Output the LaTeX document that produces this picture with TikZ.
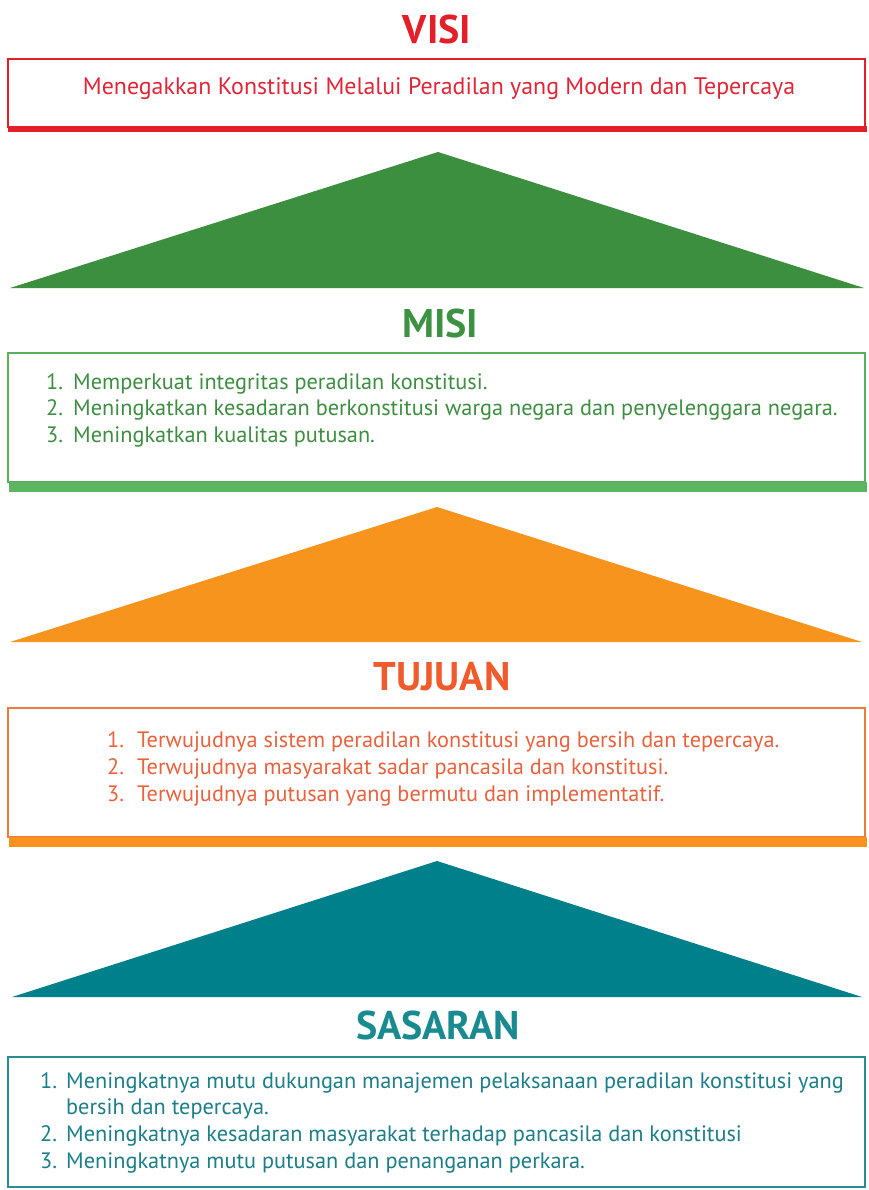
\documentclass[tikz,border=0pt]{standalone}
\usepackage{fontspec}
\setmainfont{PT Sans}
\definecolor{visired}{HTML}{E3202A}
\definecolor{visitxt}{HTML}{E02636}
\definecolor{gtri}{HTML}{3B8F3F}
\definecolor{gtitle}{HTML}{3D9142}
\definecolor{gframe}{HTML}{5AAE5E}
\definecolor{gbar}{HTML}{5DB562}
\definecolor{gtxt}{HTML}{3E8E42}
\definecolor{otri}{HTML}{F7941E}
\definecolor{otitle}{HTML}{EF5B2B}
\definecolor{oframe}{HTML}{EE7A3E}
\definecolor{obar}{HTML}{F7931E}
\definecolor{otxt}{HTML}{E9623D}
\definecolor{ttri}{HTML}{00808B}
\definecolor{ttitle}{HTML}{198A90}
\definecolor{tframe}{HTML}{2B8B94}
\definecolor{ttxt}{HTML}{1C7E88}
\begin{document}
\begin{tikzpicture}[x=1pt,y=-1pt,
  title/.style={font=\fontsize{40}{44}\selectfont\bfseries, anchor=center, inner sep=0pt},
  item/.style={font=\fontsize{22.3}{26}\selectfont, anchor=base west, inner sep=0pt},
  frame/.style={line width=1.4pt},
]
\useasboundingbox (0,0) rectangle (868,1190);
\fill[white] (0,0) rectangle (868,1190);

% VISI
\node[title, text=visired] (visi) at (437,30) {VISI};
\draw[frame, visired] (8,59) rectangle (865,127);
\fill[visired] (8,126) rectangle (867,132);
\node[item, font=\fontsize{23.9}{28}\selectfont, anchor=base, text=visitxt] (visitext) at (439,95) {Menegakkan Konstitusi Melalui Peradilan yang Modern dan Tepercaya};

% green triangle
\fill[gtri] (10,288) -- (438,152) -- (864,288) -- cycle;

% MISI
\node[title, text=gtitle] (misi) at (440,323) {MISI};
\draw[frame, gframe] (8,353) rectangle (865,482);
\fill[gbar] (9,482) rectangle (867,492);
\node[item, text=gtxt] (m1n) at (46,389) {1.};
\node[item, text=gtxt] (m1) at (73,389) {Memperkuat integritas peradilan konstitusi.};
\node[item, text=gtxt] (m2n) at (46,415) {2.};
\node[item, text=gtxt] (m2) at (73,415) {Meningkatkan kesadaran berkonstitusi warga negara dan penyelenggara negara.};
\node[item, text=gtxt] (m3n) at (46,442) {3.};
\node[item, text=gtxt] (m3) at (73,442) {Meningkatkan kualitas putusan.};

% orange triangle
\fill[otri] (10,642) -- (437,507) -- (862,642) -- cycle;

% TUJUAN
\node[title, text=otitle] (tujuan) at (442,677) {TUJUAN};
\draw[frame, oframe] (8,708) rectangle (865,837);
\fill[obar] (9,837) rectangle (867,847);
\node[item, text=otxt] (t1n) at (107,747) {1.};
\node[item, text=otxt] (t1) at (137,747) {Terwujudnya sistem peradilan konstitusi yang bersih dan tepercaya.};
\node[item, text=otxt] (t2n) at (107,774) {2.};
\node[item, text=otxt] (t2) at (137,774) {Terwujudnya masyarakat sadar pancasila dan konstitusi.};
\node[item, text=otxt] (t3n) at (107,801) {3.};
\node[item, text=otxt] (t3) at (137,801) {Terwujudnya putusan yang bermutu dan implementatif.};

% teal triangle
\fill[ttri] (12,997) -- (437,861) -- (862,997) -- cycle;

% SASARAN
\node[title, text=ttitle] (sasaran) at (438,1025) {SASARAN};
\draw[frame, tframe] (8,1057) rectangle (865,1187);
\node[item, text=ttxt] (s1n) at (40,1088) {1.};
\node[item, text=ttxt] (s1) at (66,1088) {Meningkatnya mutu dukungan manajemen pelaksanaan peradilan konstitusi yang};
\node[item, text=ttxt] (s1b) at (66,1114) {bersih dan tepercaya.};
\node[item, text=ttxt] (s2n) at (40,1141) {2.};
\node[item, text=ttxt] (s2) at (66,1141) {Meningkatnya kesadaran masyarakat terhadap pancasila dan konstitusi};
\node[item, text=ttxt] (s3n) at (40,1168) {3.};
\node[item, text=ttxt] (s3) at (66,1168) {Meningkatnya mutu putusan dan penanganan perkara.};
\end{tikzpicture}
\end{document}
